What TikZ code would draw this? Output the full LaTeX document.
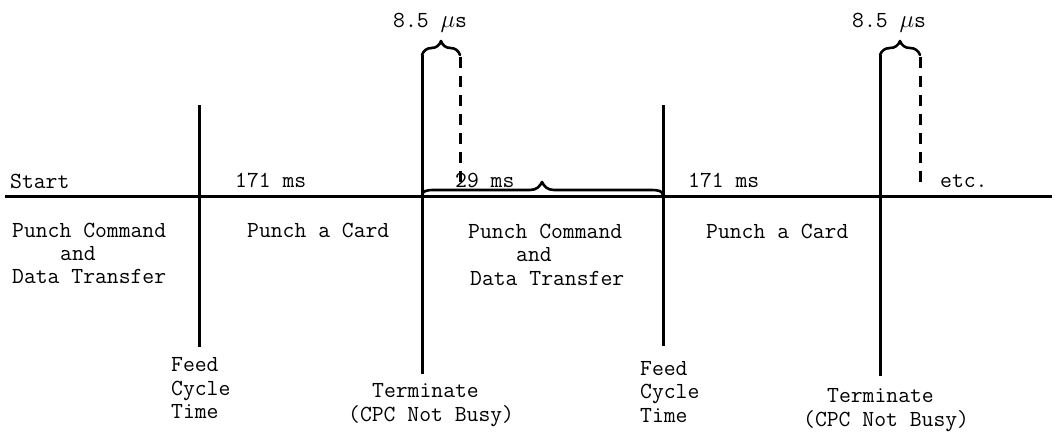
\documentclass[tikz,border=0pt]{standalone}
\usetikzlibrary{decorations.pathreplacing}
\begin{document}
\begin{tikzpicture}[x=1pt,y=-1pt,
  txt/.style={font=\ttfamily\fontsize{23}{27}\selectfont, inner sep=0pt, anchor=base west},
  timeline/.style={line width=3pt},
  dashline/.style={line width=3pt, dash pattern=on 11pt off 8pt},
  bracestyle/.style={line width=2.6pt, line cap=round, line join=round},
  topbrace/.style={bracestyle, decorate, decoration={brace, amplitude=14pt, aspect=0.5}}]
\useasboundingbox (0,0) rectangle (1057,432);
% coordinates
\coordinate (h0) at (5,196);
\coordinate (h1) at (1052,196);
\coordinate (fa) at (199,105);
\coordinate (fb) at (199,347);
\coordinate (ta) at (422,55);
\coordinate (tb) at (422,374);
\coordinate (da) at (460,57);
\coordinate (db) at (460,186);
\coordinate (ga) at (663,105);
\coordinate (gb) at (663,346);
\coordinate (ua) at (880,55);
\coordinate (ub) at (880,376);
\coordinate (ea) at (920,57);
\coordinate (eb) at (920,188);
% lines
\draw[timeline] (h0) -- (h1);
\draw[timeline] (fa) -- (fb);
\draw[timeline] (ta) -- (tb);
\draw[timeline] (ga) -- (gb);
\draw[timeline] (ua) -- (ub);
\draw[dashline] (da) -- (db);
\draw[dashline] (ea) -- (eb);
% top braces
\draw[topbrace] (ta) -- (460,55);
\draw[topbrace] (ua) -- (920,55);
% middle brace
\draw[bracestyle] (422,196) .. controls (422,191) and (426,190) .. (434,190)
  -- (530,190) .. controls (537,190) and (540,186) .. (542,182)
  .. controls (544,186) and (547,190) .. (554,190)
  -- (651,190) .. controls (659,190) and (663,191) .. (663,196);
% texts
\node[txt] (us1) at (393,27) {8.5 $\mu$s};
\node[txt] (us2) at (852,27) {8.5 $\mu$s};
\node[txt] (start) at (10,188) {Start};
\node[txt] (t171a) at (235,187) {171 ms};
\node[txt] (t29) at (455,187) {29 ms};
\node[txt] (t171b) at (688,187) {171 ms};
\node[txt] (etc) at (940,187) {etc.};
\node[txt] (pc1) at (12,237) {Punch Command};
\node[txt] (and1) at (60,260) {and};
\node[txt] (dt1) at (12,283) {Data Transfer};
\node[txt] (pac1) at (247,237) {Punch a Card};
\node[txt] (pc2) at (468,238) {Punch Command};
\node[txt] (and2) at (516,261) {and};
\node[txt] (dt2) at (470,285) {Data Transfer};
\node[txt] (pac2) at (706,238) {Punch a Card};
\node[txt] (fd1) at (171,371) {Feed};
\node[txt] (cy1) at (171,395) {Cycle};
\node[txt] (tm1) at (171,418) {Time};
\node[txt] (term1) at (372,397) {Terminate};
\node[txt] (cpc1) at (348,421) {(CPC Not Busy)};
\node[txt] (fd2) at (640,375) {Feed};
\node[txt] (cy2) at (640,398) {Cycle};
\node[txt] (tm2) at (640,422) {Time};
\node[txt] (term2) at (827,402) {Terminate};
\node[txt] (cpc2) at (803,426) {(CPC Not Busy)};
\end{tikzpicture}
\end{document}
